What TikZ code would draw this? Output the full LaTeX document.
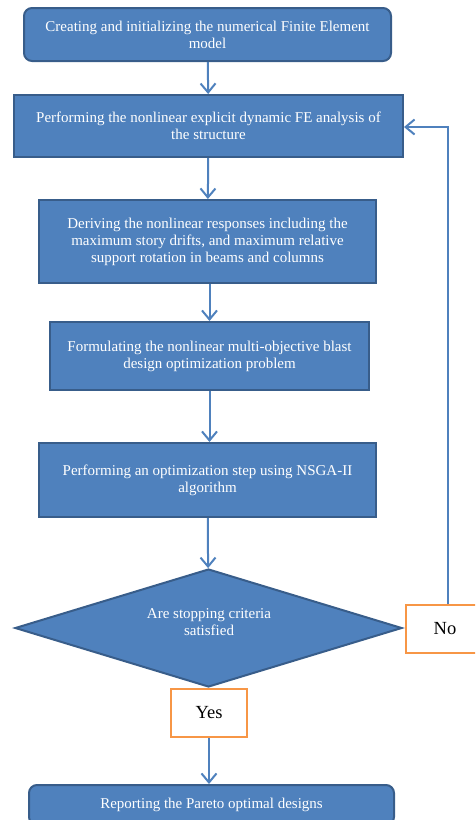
\documentclass[tikz,border=0pt]{standalone}
\usepackage{fontspec}
\setmainfont{Liberation Serif}
\usetikzlibrary{shapes.geometric,arrows.meta}
\definecolor{boxfill}{HTML}{4F81BD}
\definecolor{boxdraw}{HTML}{385D8A}
\definecolor{orangeb}{HTML}{F79646}
\tikzset{
  stepbox/.style={draw=boxdraw, fill=boxfill, line width=2pt, text=white, align=center, inner sep=0pt, font=\fontsize{15}{17}\selectfont},
  roundbox/.style={stepbox, rounded corners=8pt},
  answer/.style={draw=orangeb, fill=white, line width=2pt, text=black, inner sep=0pt, font=\fontsize{18.5}{21}\selectfont},
  flow/.style={draw=boxfill, line width=2pt, -{Straight Barb[length=9pt,width=15pt,line width=2pt]}},
}
\begin{document}
\begin{tikzpicture}[x=1pt,y=-1pt]
\useasboundingbox (0,0) rectangle (475,820);
\clip (0,0) rectangle (475,820);
\node[roundbox, minimum width=367pt, minimum height=53pt] (b1) at (207.5,34.5) {Creating and initializing the numerical Finite Element\\model};
\node[stepbox, minimum width=389pt, minimum height=62pt] (b2) at (208.5,126) {Performing the nonlinear explicit dynamic FE analysis of\\the structure};
\node[stepbox, minimum width=337pt, minimum height=83pt] (b3) at (207.5,241.5) {Deriving the nonlinear responses including the\\maximum story drifts, and maximum relative\\support rotation in beams and columns};
\node[stepbox, minimum width=319pt, minimum height=68pt] (b4) at (209.5,356) {Formulating the nonlinear multi-objective blast\\design optimization problem};
\node[stepbox, minimum width=337pt, minimum height=74pt] (b5) at (207.5,480) {Performing an optimization step using NSGA-II\\algorithm};
\node[draw=boxdraw, fill=boxfill, line width=2pt, diamond, inner sep=0pt, minimum width=387pt, minimum height=118pt] (d) at (208.5,628) {};
\node[text=white, align=center, font=\fontsize{15}{17}\selectfont] (dt) at (209,622) {Are stopping criteria\\satisfied};
\node[answer, minimum width=78pt, minimum height=48pt] (no) at (445,629) {No};
\node[answer, minimum width=76pt, minimum height=48pt] (yes) at (209,713) {Yes};
\node[roundbox, minimum width=365pt, minimum height=40pt] (b6) at (211.5,805) {Reporting the Pareto optimal designs};
\draw[flow] (b1) -- (b2);
\draw[flow] (b2) -- (b3);
\draw[flow] (b3.south -| b4.center) -- (b4.north);
\draw[flow] (b4.south) -- (b4.south |- b5.north);
\draw[flow] (b5) -- (d);
\draw[flow] (yes.south) -- (yes.south |- b6.north);
\coordinate (corner) at (448,127);
\draw[flow] (no.north -| corner) -- (corner) -- (b2.east |- corner);
\end{tikzpicture}
\end{document}
